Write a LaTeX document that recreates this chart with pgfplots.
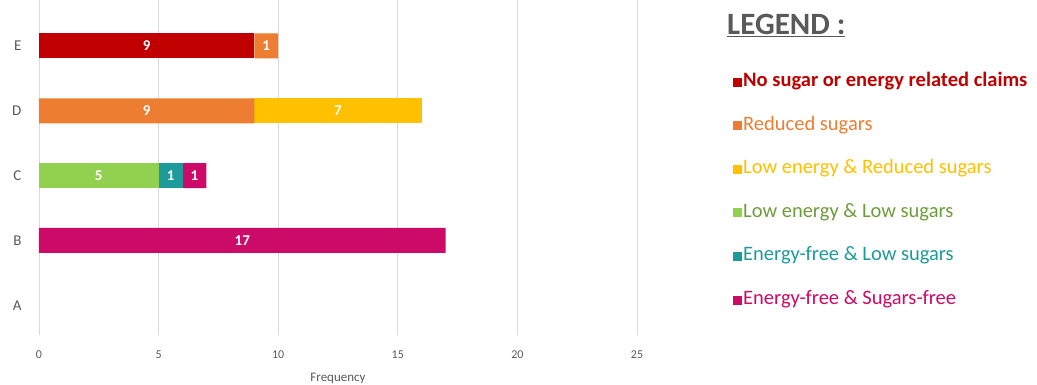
\documentclass[border=0pt]{standalone}
\usepackage{pgfplots}
\pgfplotsset{compat=1.18}
\usepackage{fontspec}
\setmainfont{Carlito}
\definecolor{cRed}{HTML}{C00000}
\definecolor{cOrange}{HTML}{ED7D31}
\definecolor{cGold}{HTML}{FFC000}
\definecolor{cGreen}{HTML}{92D050}
\definecolor{cTeal}{HTML}{1E9A9A}
\definecolor{cMag}{HTML}{CC0A68}
\definecolor{cTxt}{HTML}{595959}
\begin{document}
\begin{tikzpicture}
\useasboundingbox (-39pt,-50pt) rectangle (998pt,335pt);
\begin{axis}[
  at={(0pt,0pt)}, anchor=south west,
  scale only axis, width=598pt, height=335pt,
  xbar stacked, bar width=25pt,
  xmin=0, xmax=25, ymin=-0.46, ymax=4.71,
  xtick={0,5,...,25}, ytick={0,...,4}, yticklabels={A,B,C,D,E},
  /pgf/number format/assume math mode=true,
  xmajorgrids, grid style={black!15, line width=0.8pt},
  axis line style={draw=none}, major tick length=0pt,
  xticklabel style={font=\fontsize{12}{14}\selectfont, text=cTxt, yshift=-12pt},
  yticklabel style={font=\fontsize{15}{17}\selectfont, text=cTxt, xshift=-14pt},
  xlabel={Frequency}, xlabel style={font=\fontsize{13}{15}\selectfont, text=cTxt, yshift=-8pt},
  point meta=explicit symbolic,
  nodes near coords,
  every node near coord/.append style={font=\bfseries\fontsize{15}{17}\selectfont, text=white},
  legend image code/.code={\fill[#1] (0pt,-4.5pt) rectangle (9pt,4.5pt);},
  legend style={draw=none, fill=none, at={(1.1605,0.787)}, anchor=north west,
     font=\fontsize{20.5}{24}\selectfont, row sep=22.6pt, inner sep=0pt,
     nodes={text height=14pt, text depth=5pt, inner sep=1pt},
     /tikz/every odd column/.style={column sep=0pt}},
  legend cell align=left,
  clip=false,
]
\addplot+[draw=none, fill=cRed] coordinates {(0,0) [] (0,1) [] (0,2) [] (0,3) [] (9,4) [9]};
\addlegendentry[text=cRed, font=\bfseries\fontsize{20.5}{24}\selectfont]{No sugar or energy related claims}
\addplot+[draw=none, fill=cOrange] coordinates {(0,0) [] (0,1) [] (0,2) [] (9,3) [9] (1,4) [1]};
\addlegendentry[text=cOrange]{Reduced sugars}
\addplot+[draw=none, fill=cGold] coordinates {(0,0) [] (0,1) [] (0,2) [] (7,3) [7] (0,4) []};
\addlegendentry[text=cGold]{Low energy \& Reduced sugars}
\addplot+[draw=none, fill=cGreen] coordinates {(0,0) [] (0,1) [] (5,2) [5] (0,3) [] (0,4) []};
\addlegendentry[text=cGreen!75!black]{Low energy \& Low sugars}
\addplot+[draw=none, fill=cTeal] coordinates {(0,0) [] (0,1) [] (1,2) [1] (0,3) [] (0,4) []};
\addlegendentry[text=cTeal]{Energy-free \& Low sugars}
\addplot+[draw=none, fill=cMag] coordinates {(0,0) [] (17,1) [17] (1,2) [1] (0,3) [] (0,4) []};
\addlegendentry[text=cMag]{Energy-free \& Sugars-free}
\node[anchor=west, font=\bfseries\fontsize{31}{35}\selectfont, text=cTxt, inner sep=0pt]
  at (rel axis cs:1.1505,0.925) {\underline{LEGEND :}};
\end{axis}
\end{tikzpicture}
\end{document}
